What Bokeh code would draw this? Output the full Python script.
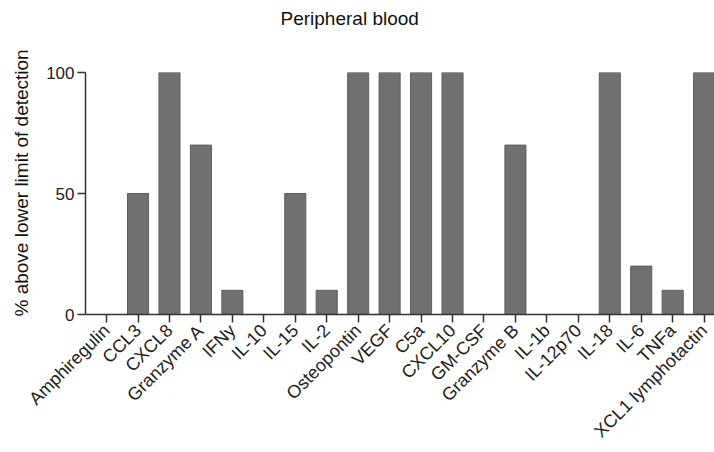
from bokeh.plotting import figure
from bokeh.models import Range1d, FixedTicker, Title
from bokeh.embed import file_html
from bokeh.resources import INLINE
from math import pi

cytokines = ["Amphiregulin", "CCL3", "CXCL8", "Granzyme A", "IFNy", "IL-10", "IL-15", "IL-2",
             "Osteopontin", "VEGF", "C5a", "CXCL10", "GM-CSF", "Granzyme B", "IL-1b",
             "IL-12p70", "IL-18", "IL-6", "TNFa", "XCL1 lymphotactin"]
percent_above = [0, 50, 100, 70, 10, 0, 50, 10, 100, 100, 100, 100, 0, 70, 0, 0, 100, 20, 10, 100]
y_ticks = [0, 50, 100]

FONT = "Liberation Sans"
positions = list(range(len(cytokines)))

p = figure(width=714, height=452, output_backend="svg", toolbar_location=None,
           x_range=Range1d(-0.67, len(cytokines) - 0.67),
           y_range=Range1d(0, 100),
           min_border_left=83, min_border_right=0, min_border_top=70, min_border_bottom=138)

p.vbar(x=positions, top=percent_above, width=0.67, fill_color="#707070",
       line_color="#5e5e5e", line_width=1)

# spacer between the frame and the title, so the title sits near the top edge
spacer = Title(text=" ", text_font_size="1px", standoff=36)
p.add_layout(spacer, "above")

p.title.text = "Peripheral blood"
p.title.align = "left"
p.title.offset = 195
p.title.vertical_align = "bottom"
p.title.standoff = 10
p.title.text_font = FONT
p.title.text_font_size = "19px"
p.title.text_font_style = "normal"
p.title.text_color = "#111111"

ytitle = Title(text="% above lower limit of detection", align="left", offset=-2,
               vertical_align="top", standoff=20, text_font=FONT, text_font_size="19px",
               text_font_style="normal", text_color="#111111")
p.add_layout(ytitle, "left")

p.grid.visible = False
p.outline_line_color = None
p.background_fill_color = "white"
p.border_fill_color = "white"

for ax in (p.xaxis[0], p.yaxis[0]):
    ax.axis_line_color = "#333333"
    ax.axis_line_width = 1.5
    ax.major_tick_line_color = "#333333"
    ax.major_tick_line_width = 1.5
    ax.major_tick_out = 8
    ax.major_tick_in = 0
    ax.minor_tick_line_color = None
    ax.major_label_text_font = FONT
    ax.major_label_text_color = "#222222"

p.yaxis.major_label_text_font_size = "17px"
p.xaxis.major_label_text_font_size = "18px"

p.yaxis.ticker = FixedTicker(ticks=y_ticks)
p.yaxis.major_label_standoff = 3

p.xaxis.ticker = FixedTicker(ticks=positions)
p.xaxis.major_label_overrides = {i: name for i, name in zip(positions, cytokines)}
p.xaxis.major_label_orientation = pi / 4
p.xaxis.major_label_standoff = 5

open("out.html", "w").write(file_html(p, INLINE))
